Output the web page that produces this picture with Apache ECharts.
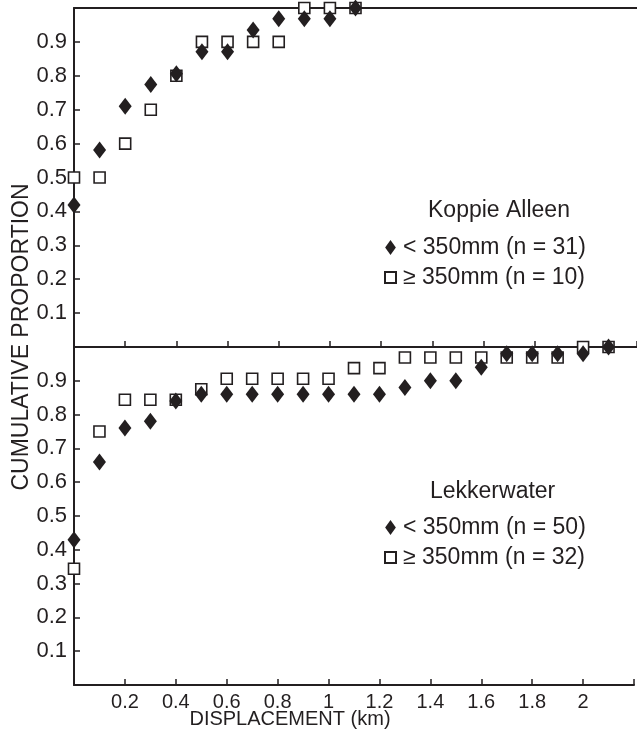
<!DOCTYPE html>
<html>
<head>
<meta charset="utf-8">
<script src="https://cdn.jsdelivr.net/npm/echarts@6/dist/echarts.min.js"></script>
<style>html,body{margin:0;padding:0;background:#fff;}#c{width:637px;height:743px;}</style>
</head>
<body>
<div id="c"></div>
<script>
// Displacement classes (km)
const xTop = [0, 0.1, 0.2, 0.3, 0.4, 0.5, 0.6, 0.7, 0.8, 0.9, 1.0, 1.1];
const xBottom = [0, 0.1, 0.2, 0.3, 0.4, 0.5, 0.6, 0.7, 0.8, 0.9, 1.0, 1.1, 1.2, 1.3, 1.4, 1.5, 1.6, 1.7, 1.8, 1.9, 2.0, 2.1];

// Koppie Alleen
const koppieLow = [0.419, 0.581, 0.710, 0.774, 0.806, 0.871, 0.871, 0.935, 0.968, 0.968, 0.968, 1.0];
const koppieHigh = [0.5, 0.5, 0.6, 0.7, 0.8, 0.9, 0.9, 0.9, 0.9, 1.0, 1.0, 1.0];

// Lekkerwater
const lekkerLow = [0.43, 0.66, 0.76, 0.78, 0.84, 0.86, 0.86, 0.86, 0.86, 0.86, 0.86, 0.86, 0.86, 0.88, 0.90, 0.90, 0.94, 0.98, 0.98, 0.98, 0.98, 1.0];
const lekkerHigh = [0.344, 0.75, 0.844, 0.844, 0.844, 0.875, 0.906, 0.906, 0.906, 0.906, 0.906, 0.9375, 0.9375, 0.969, 0.969, 0.969, 0.969, 0.969, 0.969, 0.969, 1.0, 1.0];

const names = {
  kLow: '< 350mm (n = 31)', kHigh: '\u2265 350mm (n = 10)',
  lLow: '< 350mm (n = 50)', lHigh: '\u2265 350mm (n = 32)'
};
const titleTop = 'Koppie Alleen';
const titleBottom = 'Lekkerwater';
const yTitle = 'CUMULATIVE PROPORTION';
const xTitle = 'DISPLACEMENT (km)';

const INK = '#231f20';
const FONT = 'Liberation Sans, Arial, Helvetica, sans-serif';
const diamondPath = 'path://M5,0L10,7L5,14L0,7Z';
const squarePath = 'path://M0,0L10,0L10,10L0,10Z';

function pairs(xs, ys) { return xs.map((x, i) => [x, ys[i]]); }

const lowStyle = { color: INK, opacity: 1 };
const highStyle = { color: '#ffffff', borderColor: INK, borderWidth: 1.6, opacity: 1 };

function xAxisDef(grid, withLabels) {
  return {
    type: 'value', gridIndex: grid, min: 0, max: 2.2, interval: 0.2, position: 'bottom',
    axisLine: { show: true, onZero: false, lineStyle: { color: INK, width: 2 } },
    axisTick: { show: true, inside: true, length: 6, lineStyle: { color: INK, width: 1.5 } },
    splitLine: { show: false },
    axisLabel: withLabels ? {
      show: true, margin: 7, color: INK, fontFamily: FONT, fontSize: 20,
      formatter: v => (v > 0.01 && v < 2.15) ? String(Math.round(v * 10) / 10) : ''
    } : { show: false }
  };
}
function yAxisDef(grid) {
  return {
    type: 'value', gridIndex: grid, min: 0, max: 1, interval: 0.1,
    axisLine: { show: true, onZero: false, lineStyle: { color: INK, width: 2 } },
    axisTick: { show: true, inside: true, length: 6, lineStyle: { color: INK, width: 1.5 } },
    splitLine: { show: false },
    axisLabel: {
      show: true, margin: 7, color: INK, fontFamily: FONT, fontSize: 22,
      formatter: v => (v > 0.01 && v < 0.99) ? v.toFixed(1) : ''
    }
  };
}

const chart = echarts.init(document.getElementById('c'), null, { renderer: 'canvas' });
const legendCommon = {
  orient: 'vertical', left: 379, itemWidth: 11, itemHeight: 15, itemGap: 7,
  symbolKeepAspect: true, selectedMode: false,
  textStyle: { color: INK, fontFamily: FONT, fontSize: 23, padding: [0, 0, 0, 2] }
};
chart.setOption({
  animation: false,
  backgroundColor: '#ffffff',
  grid: [
    { left: 74, right: -2, top: 8, height: 339 },
    { left: 74, right: -2, top: 347, height: 338 }
  ],
  xAxis: [
    xAxisDef(0, false),
    xAxisDef(1, true),
    { type: 'value', gridIndex: 0, min: 0, max: 2.2, position: 'top',
      axisLine: { show: true, onZero: false, lineStyle: { color: INK, width: 2 } },
      axisTick: { show: false }, axisLabel: { show: false }, splitLine: { show: false } }
  ],
  yAxis: [yAxisDef(0), yAxisDef(1)],
  legend: [
    Object.assign({ top: 231, data: [
      { name: names.kLow, icon: diamondPath },
      { name: names.kHigh, icon: squarePath }
    ] }, legendCommon),
    Object.assign({ top: 511, data: [
      { name: names.lLow, icon: diamondPath },
      { name: names.lHigh, icon: squarePath }
    ] }, legendCommon)
  ],
  graphic: [
    { type: 'text', left: 499 - 71, top: 199, style: { text: titleTop, fill: INK, font: '23px ' + FONT } },
    { type: 'text', left: 491 - 61, top: 480, style: { text: titleBottom, fill: INK, font: '23px ' + FONT } },
    { type: 'text', x: 22, y: 337, rotation: Math.PI / 2,
      style: { text: yTitle, fill: INK, font: '23px ' + FONT, align: 'center', verticalAlign: 'middle' } },
    { type: 'text', x: 290, y: 719,
      style: { text: xTitle, fill: INK, font: '20px ' + FONT, align: 'center', verticalAlign: 'middle' } }
  ],
  series: [
    { name: names.kHigh, type: 'scatter', xAxisIndex: 0, yAxisIndex: 0, symbol: 'rect', symbolSize: 11,
      itemStyle: highStyle, data: pairs(xTop, koppieHigh), z: 3, clip: false },
    { name: names.kLow, type: 'scatter', xAxisIndex: 0, yAxisIndex: 0, symbol: diamondPath, symbolSize: [13, 17],
      itemStyle: lowStyle, data: pairs(xTop, koppieLow), z: 4, clip: false },
    { name: names.lHigh, type: 'scatter', xAxisIndex: 1, yAxisIndex: 1, symbol: 'rect', symbolSize: 11,
      itemStyle: highStyle, data: pairs(xBottom, lekkerHigh), z: 3, clip: false },
    { name: names.lLow, type: 'scatter', xAxisIndex: 1, yAxisIndex: 1, symbol: diamondPath, symbolSize: [13, 17],
      itemStyle: lowStyle, data: pairs(xBottom, lekkerLow), z: 4, clip: false }
  ]
});
</script>
</body>
</html>
